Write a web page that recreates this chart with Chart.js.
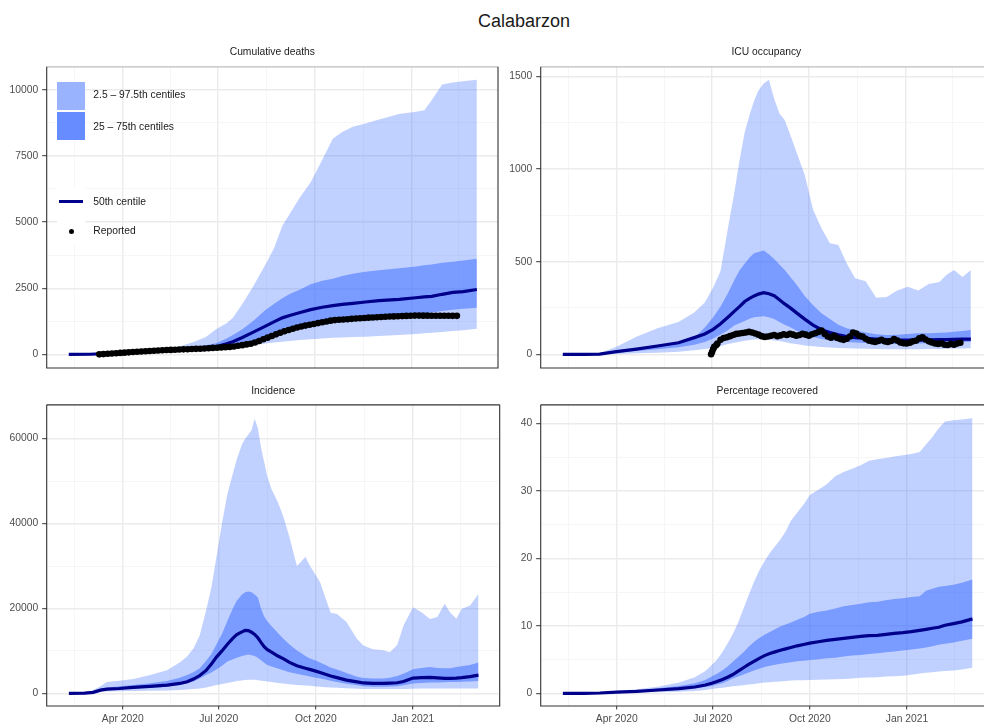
<!DOCTYPE html>
<html><head><meta charset="utf-8">
<script src="https://cdn.jsdelivr.net/npm/chart.js@4.4.0/dist/chart.umd.min.js"></script>
<style>
html,body{margin:0;padding:0;width:984px;height:727px;overflow:hidden;background:#fff;font-family:"Liberation Sans",Arial,Helvetica,sans-serif;}
#title{position:absolute;left:0;width:1048px;top:12px;text-align:center;font-size:18px;line-height:18px;color:#1a1a1a;}
canvas{position:absolute;}
.lk{position:absolute;width:28px;height:28px;z-index:5;}
.lt{position:absolute;left:93.3px;font-size:10.3px;line-height:12px;color:#1a1a1a;z-index:5;white-space:nowrap;}
</style></head><body>
<div id="title">Calabarzon</div>
<canvas id="c1" width="502" height="342" style="left:0;top:40px"></canvas>
<canvas id="c2" width="502" height="342" style="left:494px;top:40px"></canvas>
<canvas id="c3" width="502" height="353" style="left:0;top:378px"></canvas>
<canvas id="c4" width="502" height="353" style="left:494px;top:378px"></canvas>

<div class="lk" style="left:57px;top:82px;background:#99b3ff"></div>
<div class="lk" style="left:57px;top:112px;background:#668cff"></div>
<div class="lt" style="top:89px">2.5 – 97.5th centiles</div>
<div class="lt" style="top:120.7px">25 – 75th centiles</div>
<div class="lk" style="left:57px;top:187px;background:#fff"><div style="position:absolute;left:2.3px;top:12.8px;width:24px;height:3px;background:#00008b"></div></div>
<div class="lk" style="left:57px;top:217px;background:#fff"><div style="position:absolute;left:11.6px;top:11.6px;width:5.4px;height:5.4px;border-radius:50%;background:#000"></div></div>
<div class="lt" style="top:195.7px">50th centile</div>
<div class="lt" style="top:225.3px">Reported</div>

<script>
// ---------- shared x axis (days since 2020-01-01) ----------
const xMajorDays = [91, 182, 274, 366];
const xMajorLabels = ['Apr 2020', 'Jul 2020', 'Oct 2020', 'Jan 2021'];
const xMinorDays = [45.5, 136.5, 228, 320, 411];

// ---------- Cumulative deaths ----------
const deathsDays = [40,60,80,100,120,133,145,158,170,180,190,196,205,215,227,235,243,250,260,270,281,291,300,310,322,335,354,370,378,385,395,405,415,428];
const deathsHi95 = [0,15,60,110,170,220,300,460,650,950,1180,1380,1900,2550,3400,4000,4850,5300,5950,6500,7350,8150,8400,8600,8720,8880,9080,9170,9230,9600,10200,10270,10320,10380];
const deathsHi50 = [0,10,50,95,150,190,230,280,340,420,600,730,950,1250,1680,1900,2120,2280,2450,2650,2780,2860,2960,3050,3120,3180,3250,3320,3370,3400,3460,3500,3550,3610];
const deathsMed  = [0,5,40,85,135,170,200,230,260,290,400,480,640,830,1070,1230,1380,1470,1580,1690,1780,1840,1890,1930,1980,2030,2080,2140,2170,2190,2270,2340,2370,2450];
const deathsLo50 = [0,3,30,75,120,150,175,200,220,240,270,290,350,470,620,730,840,920,1020,1110,1180,1240,1290,1330,1380,1430,1480,1530,1560,1580,1640,1690,1720,1760];
const deathsLo95 = [0,2,20,60,100,130,150,170,190,205,220,230,280,340,410,450,480,510,545,575,600,625,640,655,670,690,730,770,800,820,850,880,910,965];
const deathsRepDays = [69,73,77,81,85,89,93,97,101,105,109,113,117,121,125,129,133,137,141,145,149,153,157,161,165,169,173,177,181,185,189,193,197,201,205,209,213,217,221,225,229,233,237,241,245,249,253,257,261,265,269,273,277,281,285,289,293,297,301,305,309,313,317,321,325,329,333,337,341,345,349,353,357,361,365,369,373,377,381,385,389,393,397,401,405,409];
const deathsRep = [0,11,22,33,44,55,66,77,88,97,107,116,126,135,144,154,163,169,176,182,189,195,202,208,215,224,234,244,253,263,273,282,297,323,349,376,402,446,508,569,631,694,756,819,874,921,969,1016,1056,1087,1118,1149,1181,1212,1243,1274,1296,1307,1319,1330,1342,1354,1365,1377,1387,1395,1404,1413,1421,1430,1435,1441,1447,1453,1459,1465,1465,1464,1463,1462,1461,1460,1458,1457,1456,1455];
const deathsYMajor = [0,2500,5000,7500,10000];
const deathsYMinor = [1250,3750,6250,8750];

// ---------- ICU occupancy ----------
const icuDays = [40,60,75,91,110,130,150,165,175,183,190,197,203,208,213,218,222,226,231,236,241,246,251,256,262,270,278,286,294,302,310,318,328,338,348,358,368,378,388,398,405,412,420,428];
const icuHi95 = [0,0,5,41,95,140,175,225,280,360,450,680,870,1045,1200,1300,1370,1425,1462,1482,1380,1300,1265,1190,1095,970,780,680,600,590,490,410,395,305,310,345,365,345,380,390,430,455,418,455];
const icuHi50 = [0,0,3,20,32,45,65,88,145,200,258,330,400,453,490,525,545,553,560,540,515,485,455,420,378,315,265,222,190,160,140,130,118,108,104,106,110,113,114,116,118,122,126,131];
const icuMed  = [0,0,1,14,28,45,62,90,110,135,165,200,232,257,285,303,315,325,333,327,316,295,272,252,225,190,158,133,117,105,96,90,86,82,79,77,77,77,78,79,80,81,82,82];
const icuLo50 = [0,0,0,9,18,27,38,52,66,85,107,130,155,167,180,193,200,203,206,200,190,175,160,147,128,107,93,82,76,71,67,64,61,58,56,55,56,58,59,61,63,65,67,68];
const icuLo95 = [0,0,0,2,5,9,14,22,28,36,45,55,63,68,73,77,80,81,81,78,75,72,67,60,55,48,43,40,37,34,32,31,30,28,27,27,27,27,28,29,30,31,31,32];
const icuRepDays = [181,182,183,184,186,187,190,193,196,199,202,205,208,211,214,217,220,223,226,229,232,235,238,241,244,247,250,253,256,259,262,265,268,271,274,277,280,283,286,289,292,295,298,301,304,307,310,313,316,319,322,325,328,331,334,337,340,343,346,349,352,355,358,361,364,367,370,373,376,379,382,385,388,391,394,397,400,403,406,409,412,415,418];
const icuRep = [0,14,28,40,50,58,78,88,92,98,104,110,112,115,118,121,118,112,106,98,94,96,100,104,98,102,108,104,110,106,100,104,110,106,100,108,114,120,128,110,96,90,100,88,82,78,84,96,118,112,100,96,84,74,70,66,72,78,70,66,72,82,74,64,60,58,62,70,74,86,92,80,70,64,58,56,60,52,50,56,52,58,62];
const icuYMajor = [0,500,1000,1500];
const icuYMinor = [250,750,1250];

// ---------- Incidence ----------
const incDays = [40,55,63,70,76,88,101,117,133,145,152,158,164,170,175,180,185,190,195,199,204,207,210,213,216,219,222,225,228,232,238,243,249,256,260,264,268,273,278,283,288,294,303,313,319,328,338,344,351,357,366,374,382,389,396,401,407,412,420,428];
const incHi95 = [0,100,780,1700,2700,2970,3360,4300,5470,7270,8700,10550,13670,19500,25000,32400,40000,46800,51500,55100,58700,60000,61000,62000,64700,62500,58000,54500,51000,48100,45000,41800,36800,30000,31000,32200,30200,28200,26200,22500,19000,18700,16800,12800,11300,10400,10160,9700,11400,16000,20300,19100,17500,18000,21100,19100,17600,19900,20700,23400];
const incHi50 = [0,50,400,1170,1300,1650,1950,2400,2900,3700,4300,5000,5900,7700,9300,11600,14000,17000,19800,21800,23300,23800,24000,23800,23300,22600,20000,18100,17000,15800,14200,12900,11500,10100,9500,8800,8300,7800,7270,6700,6100,5600,4800,3900,3600,3500,3500,3700,4100,4600,5700,6000,6200,6000,5900,5900,6200,6400,6700,7270];
const incMed  = [0,50,250,750,1000,1150,1400,1650,1950,2340,2750,3360,4200,5400,6900,8600,10000,11500,12900,13830,14500,14850,14800,14400,13900,13100,12000,11000,10300,9700,8800,8200,7300,6500,6200,5900,5650,5300,4920,4500,4100,3700,3125,2700,2450,2340,2340,2400,2500,2800,3600,3700,3750,3650,3550,3515,3600,3700,3950,4300];
const incLo50 = [0,30,150,700,850,1000,1170,1350,1560,1950,2340,2800,3515,4300,4900,5700,6500,7500,8000,8400,8800,9000,9140,9000,8800,8400,7800,7200,6700,6300,5850,5470,5000,4600,4400,4200,4000,3750,3515,3250,3000,2700,2250,1900,1700,1560,1560,1600,1700,1900,2340,2450,2550,2580,2600,2650,2700,2750,2820,2890];
const incLo95 = [0,20,100,390,420,480,550,620,700,820,900,1000,1170,1400,1650,1950,2200,2450,2700,2900,3050,3150,3200,3200,3180,3100,3000,2900,2800,2650,2450,2300,2150,2000,1920,1850,1780,1650,1550,1450,1380,1300,1200,1100,1050,1015,1000,1000,1015,1050,1100,1130,1150,1170,1170,1170,1170,1170,1170,1170];
const incYMajor = [0,20000,40000,60000];
const incYMinor = [10000,30000,50000];

// ---------- Percentage recovered ----------
const pctDays = [40,60,75,91,110,130,150,165,175,181,186,191,196,201,206,211,216,221,226,231,236,241,246,251,256,262,268,274,282,290,298,306,314,322,330,338,346,354,362,370,378,384,390,396,402,410,418,428];
const pctHi95 = [0,0.02,0.1,0.35,0.6,1.0,1.6,2.4,3.3,4.2,5.0,6.1,7.4,8.8,10.5,12.5,14.6,16.5,18.2,19.6,20.8,21.8,22.8,24.0,25.6,26.8,28.0,29.4,30.2,31.0,32.2,32.8,33.3,33.8,34.5,34.7,34.9,35.1,35.3,35.5,35.8,36.9,38.0,39.3,40.3,40.5,40.6,40.8];
const pctHi50 = [0,0.01,0.08,0.25,0.4,0.75,1.1,1.5,2.0,2.5,2.9,3.4,4.0,4.7,5.4,6.1,6.9,7.6,8.2,8.7,9.1,9.5,9.9,10.2,10.5,10.9,11.3,11.8,12.1,12.3,12.6,12.9,13.1,13.3,13.5,13.6,13.8,14.0,14.1,14.3,14.4,15.2,15.5,15.8,15.9,16.1,16.4,16.9];
const pctMed  = [0,0.01,0.06,0.2,0.3,0.5,0.7,0.95,1.25,1.5,1.75,2.05,2.4,2.8,3.3,3.8,4.3,4.75,5.2,5.6,5.9,6.15,6.4,6.6,6.8,7.05,7.25,7.45,7.65,7.85,8.0,8.15,8.3,8.45,8.55,8.6,8.75,8.9,9.0,9.15,9.35,9.5,9.65,9.8,10.1,10.35,10.6,11.05];
const pctLo50 = [0,0.01,0.04,0.15,0.22,0.35,0.55,0.75,0.95,1.1,1.3,1.5,1.85,2.2,2.5,2.8,3.1,3.4,3.65,3.9,4.1,4.25,4.4,4.5,4.6,4.75,4.85,4.95,5.05,5.2,5.3,5.45,5.6,5.7,5.85,5.95,6.1,6.2,6.35,6.5,6.65,6.8,7.0,7.2,7.35,7.55,7.8,8.1];
const pctLo95 = [0,0,0.02,0.1,0.12,0.15,0.25,0.35,0.5,0.65,0.75,0.85,0.95,1.05,1.12,1.2,1.3,1.4,1.5,1.6,1.65,1.72,1.78,1.84,1.9,1.93,1.96,2.0,2.03,2.07,2.1,2.15,2.22,2.3,2.35,2.4,2.5,2.55,2.6,2.75,2.95,3.05,3.15,3.25,3.3,3.4,3.55,3.8];
const pctYMajor = [0,10,20,30,40];
const pctYMinor = [5,15,25,35];

// ---------- styling ----------
const FONT = '"Liberation Sans", Arial, Helvetica, sans-serif';
Chart.defaults.font.family = FONT;
Chart.defaults.font.size = 10.3;
Chart.defaults.color = '#4d4d4d';
const BAND_OUTER = 'rgba(51,102,255,0.3)';
const BAND_INNER = 'rgba(51,102,255,0.5)';
const MEDIAN_COLOR = '#00008b';

function pts(xs, ys) { return xs.map((x, i) => ({x: x, y: ys[i]})); }

const panelBorder = {
  id: 'panelBorder',
  afterDatasetsDraw(chart, args, opts) {
    const ctx = chart.ctx, a = chart.chartArea;
    ctx.save();
    ctx.lineWidth = 1.1;
    ctx.strokeStyle = opts.topColor || '#333333';
    ctx.beginPath(); ctx.moveTo(a.left, a.top); ctx.lineTo(a.right, a.top); ctx.stroke();
    ctx.strokeStyle = '#333333';
    ctx.beginPath();
    ctx.moveTo(a.left, a.top); ctx.lineTo(a.left, a.bottom); ctx.lineTo(a.right, a.bottom); ctx.lineTo(a.right, a.top);
    ctx.stroke();
    ctx.restore();
  }
};

function makePanel(id, p) {
  const xAll = xMajorDays.concat(xMinorDays).sort((a, b) => a - b);
  const yAll = p.yMajor.concat(p.yMinor).sort((a, b) => a - b);
  const isXMaj = v => xMajorDays.indexOf(v) >= 0;
  const isYMaj = v => p.yMajor.indexOf(v) >= 0;
  const band = {borderColor: 'transparent', borderWidth: 0, pointRadius: 0};
  const datasets = [
    {label: 'Reported', data: p.rep ? pts(p.repDays, p.rep) : [], showLine: false,
     pointRadius: 3.3, pointBackgroundColor: '#000', pointBorderWidth: 0, borderColor: '#000', order: 0},
    {label: '50th centile', data: pts(p.days, p.med), borderColor: MEDIAN_COLOR, borderWidth: 3.2,
     pointRadius: 0, fill: false, order: 1},
    Object.assign({label: '75th', data: pts(p.days, p.hi50), fill: '+1', backgroundColor: BAND_INNER, order: 2}, band),
    Object.assign({label: '25th', data: pts(p.days, p.lo50), fill: false, order: 2}, band),
    Object.assign({label: '97.5th', data: pts(p.days, p.hi95), fill: '+1', backgroundColor: BAND_OUTER, order: 3}, band),
    Object.assign({label: '2.5th', data: pts(p.days, p.lo95), fill: false, order: 3}, band)
  ];
  return new Chart(document.getElementById(id), {
    type: 'line',
    data: {datasets: datasets},
    plugins: [panelBorder],
    options: {
      responsive: false, animation: false, devicePixelRatio: 1, events: [],
      layout: {padding: {left: 0, right: 2.3, top: 0, bottom: 0}},
      elements: {line: {tension: 0}},
      plugins: {
        legend: {display: false}, tooltip: {enabled: false},
        title: {display: true, text: p.title, fullSize: false, color: '#1a1a1a',
                font: {size: 10.3, weight: 'normal', family: FONT},
                padding: {top: p.tTop, bottom: p.tBottom}},
        panelBorder: {topColor: p.topColor}
      },
      scales: {
        x: {
          type: 'linear', min: 19, max: 448.1,
          afterBuildTicks: s => { s.ticks = xAll.map(v => ({value: v})); },
          afterFit: s => { s.height = p.xHeight; },
          ticks: {display: p.showX, autoSkip: false, maxRotation: 0, minRotation: 0, padding: 3, color: '#4d4d4d',
                  callback: v => { const i = xMajorDays.indexOf(v); return i >= 0 ? xMajorLabels[i] : ''; }},
          grid: {
            color: c => isXMaj(c.tick.value) ? '#ebebeb' : '#f2f2f2',
            lineWidth: c => isXMaj(c.tick.value) ? 1.4 : 0.7,
            drawTicks: p.showX, tickLength: 3.5, tickWidth: 1,
            tickColor: c => isXMaj(c.tick.value) ? '#333333' : 'rgba(0,0,0,0)'
          },
          border: {display: false}
        },
        y: {
          type: 'linear', min: p.yMin, max: p.yMax,
          afterBuildTicks: s => { s.ticks = yAll.map(v => ({value: v})); },
          afterFit: s => { s.width = 46.7; },
          ticks: {padding: 4, color: '#4d4d4d', callback: v => isYMaj(v) ? String(v) : ''},
          grid: {
            color: c => isYMaj(c.tick.value) ? '#ebebeb' : '#f2f2f2',
            lineWidth: c => isYMaj(c.tick.value) ? 1.4 : 0.7,
            drawTicks: true, tickLength: 4.5, tickWidth: 1,
            tickColor: c => isYMaj(c.tick.value) ? '#333333' : 'rgba(0,0,0,0)'
          },
          border: {display: false}
        }
      }
    }
  });
}

makePanel('c1', {title: 'Cumulative deaths', days: deathsDays, hi95: deathsHi95, hi50: deathsHi50, med: deathsMed,
  lo50: deathsLo50, lo95: deathsLo95, repDays: deathsRepDays, rep: deathsRep,
  yMin: -515, yMax: 10865, yMajor: deathsYMajor, yMinor: deathsYMinor,
  showX: false, xHeight: 14, tTop: 6, tBottom: 8.5, topColor: '#bdbdbd'});
makePanel('c2', {title: 'ICU occupancy', days: icuDays, hi95: icuHi95, hi50: icuHi50, med: icuMed,
  lo50: icuLo50, lo95: icuLo95, repDays: icuRepDays, rep: icuRep,
  yMin: -74, yMax: 1552, yMajor: icuYMajor, yMinor: icuYMinor,
  showX: false, xHeight: 14, tTop: 6, tBottom: 8.5, topColor: '#bdbdbd'});
makePanel('c3', {title: 'Incidence', days: incDays, hi95: incHi95, hi50: incHi50, med: incMed,
  lo50: incLo50, lo95: incLo95,
  yMin: -2976, yMax: 67963, yMajor: incYMajor, yMinor: incYMinor,
  showX: true, xHeight: 25, tTop: 7.3, tBottom: 7.2, topColor: '#333333'});
makePanel('c4', {title: 'Percentage recovered', days: pctDays, hi95: pctHi95, hi50: pctHi50, med: pctMed,
  lo50: pctLo50, lo95: pctLo95,
  yMin: -1.87, yMax: 42.77, yMajor: pctYMajor, yMinor: pctYMinor,
  showX: true, xHeight: 25, tTop: 7.3, tBottom: 7.2, topColor: '#333333'});
</script>
</body></html>
